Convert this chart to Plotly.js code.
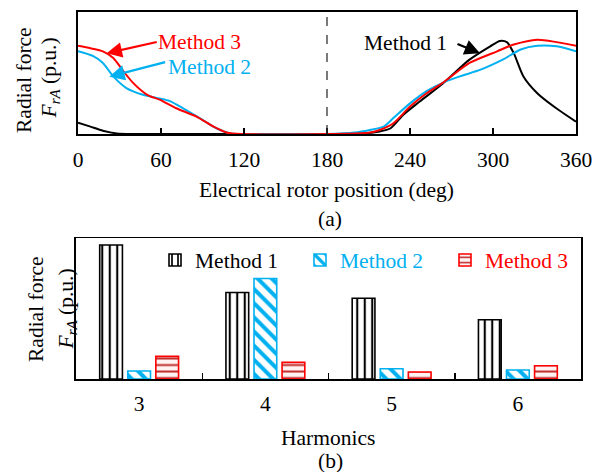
<!DOCTYPE html>
<html>
<head>
<meta charset="utf-8">
<script src="https://cdn.plot.ly/plotly-3.0.1.min.js"></script>
<style>
  html, body { margin: 0; padding: 0; background: #fff; }
  #chart { width: 607px; height: 472px; }
</style>
</head>
<body>
<div id="chart"></div>
<script>
// (a) radial force vs electrical rotor position, per method (p.u.)
const m1Deg = [0, 9, 18, 28, 40, 60, 120, 180, 205, 218, 226, 235, 247, 264, 283, 298, 305, 310, 315, 322, 332, 344, 360];
const m1Val = [0.093, 0.06, 0.027, 0.005, 0, 0, 0, 0, 0.003, 0.02, 0.047, 0.155, 0.265, 0.415, 0.607, 0.716, 0.76, 0.75, 0.66, 0.47, 0.333, 0.224, 0.10];

const m2Deg = [0, 11, 18, 25.5, 35, 47, 59, 66, 76, 88, 100, 110, 120, 180, 200, 211, 221, 228, 240, 252, 264, 276, 291, 307, 320, 332, 346, 360];
const m2Val = [0.675, 0.635, 0.58, 0.47, 0.375, 0.32, 0.29, 0.27, 0.21, 0.13, 0.047, 0.005, 0, 0, 0.012, 0.033, 0.06, 0.13, 0.25, 0.35, 0.42, 0.47, 0.525, 0.607, 0.69, 0.72, 0.716, 0.675];

const m3Deg = [0, 9, 18, 25.5, 33, 40, 50, 59, 71, 86, 98, 108, 120, 180, 210, 218, 228, 240, 252, 264, 283, 303, 315, 332, 346, 360];
const m3Val = [0.72, 0.70, 0.675, 0.62, 0.51, 0.415, 0.32, 0.28, 0.21, 0.14, 0.06, 0.01, 0, 0, 0.01, 0.033, 0.088, 0.224, 0.333, 0.42, 0.58, 0.675, 0.73, 0.77, 0.75, 0.72];

const posTicks = [0, 60, 120, 180, 240, 300, 360];

// (b) harmonic amplitudes (p.u.)
const harmonics = ['3', '4', '5', '6'];
const m1Harm = [1.0, 0.645, 0.603, 0.442];
const m2Harm = [0.06, 0.75, 0.077, 0.067];
const m3Harm = [0.169, 0.124, 0.052, 0.099];

const names = ['Method 1', 'Method 2', 'Method 3'];
const colors = ['#000000', '#00b0f0', '#ff0000'];

const FONT = '"Liberation Serif", "Times New Roman", Times, serif';
const FS = 21.5;

function line(x, y, i) {
  return {
    x: x, y: y, type: 'scatter', mode: 'lines', xaxis: 'x', yaxis: 'y',
    line: { color: colors[i], width: 2, shape: 'spline', smoothing: 0.7 },
    showlegend: false, hoverinfo: 'skip'
  };
}

const patterns = [
  { shape: '|', fgcolor: '#000000', bgcolor: '#ffffff', size: 7.5, solidity: 0.28 },
  { shape: '\\', fgcolor: '#00b0f0', bgcolor: '#ffffff', size: 10, solidity: 0.4 },
  { shape: '-', fgcolor: '#c02a2a', bgcolor: '#fff2f2', size: 6.5, solidity: 0.3 }
];

function bars(y, i) {
  return {
    x: harmonics, y: y, type: 'bar', xaxis: 'x2', yaxis: 'y2',
    name: '<span style="color:' + colors[i] + '">' + names[i] + '</span>',
    marker: { color: '#ffffff', pattern: patterns[i], line: { color: colors[i], width: 1.6 } },
    hoverinfo: 'skip'
  };
}

const data = [
  line(m1Deg, m1Val, 0),
  line(m2Deg, m2Val, 1),
  line(m3Deg, m3Val, 2),
  bars(m1Harm, 0),
  bars(m2Harm, 1),
  bars(m3Harm, 2)
];

const W = 607, H = 472;
const px = v => v / W;
const py = v => 1 - v / H;

function label(text, x, y, opts) {
  return Object.assign({
    text: text, xref: 'paper', yref: 'paper', x: px(x), y: py(y),
    xanchor: 'center', yanchor: 'middle', showarrow: false,
    font: { family: FONT, size: FS, color: '#000' }
  }, opts || {});
}

function arrow(xh, yh, ax, ay, color) {
  return {
    text: '', xref: 'x', yref: 'y', x: xh, y: yh, ax: ax, ay: ay,
    showarrow: true, arrowhead: 2, arrowsize: 1.4, arrowwidth: 2.2, arrowcolor: color
  };
}

function callout(text, x, y, color) {
  return {
    text: text, xref: 'x', yref: 'y', x: x, y: y, showarrow: false,
    xanchor: 'center', yanchor: 'middle',
    font: { family: FONT, size: FS, color: color }
  };
}

const layout = {
  width: W, height: H,
  margin: { l: 0, r: 0, t: 0, b: 0 },
  paper_bgcolor: '#fff', plot_bgcolor: '#fff',
  font: { family: FONT, size: FS, color: '#000' },
  barmode: 'group', bargap: 0.333, bargroupgap: 0.19,
  xaxis: {
    domain: [px(78), px(576)], anchor: 'y',
    range: [0, 360], tickvals: posTicks, ticks: 'inside', ticklen: 6, tickwidth: 1.5,
    tickcolor: '#000', showline: true, linecolor: '#000', linewidth: 1.6, mirror: true,
    showgrid: false, zeroline: false, ticklabelstandoff: 6,
    tickfont: { family: FONT, size: FS, color: '#000' }
  },
  yaxis: {
    domain: [py(134), py(11.5)], anchor: 'x',
    range: [0, 1], showticklabels: false, ticks: '',
    showline: true, linecolor: '#000', linewidth: 1.6, mirror: true,
    showgrid: false, zeroline: false
  },
  xaxis2: {
    domain: [px(76), px(581)], anchor: 'y2', type: 'category',
    ticks: 'inside', tickson: 'boundaries', ticklen: 6, tickwidth: 1.5, tickcolor: '#000',
    showline: true, linecolor: '#000', linewidth: 1.6, mirror: true,
    showgrid: false, zeroline: false, ticklabelstandoff: 5,
    tickfont: { family: FONT, size: FS, color: '#000' }
  },
  yaxis2: {
    domain: [py(379), py(238.3)], anchor: 'x2',
    range: [0, 1.05], showticklabels: false, ticks: '',
    showline: true, linecolor: '#000', linewidth: 1.6, mirror: true,
    showgrid: false, zeroline: false
  },
  legend: {
    orientation: 'h', x: px(155), y: py(260), xanchor: 'left', yanchor: 'middle',
    bgcolor: 'rgba(0,0,0,0)', font: { family: FONT, size: FS },
    entrywidth: 100, entrywidthmode: 'pixels', tracegroupgap: 0
  },
  shapes: [{
    type: 'line', xref: 'x', yref: 'y domain', x0: 180, x1: 180, y0: 0, y1: 1,
    line: { color: '#333', width: 1.3, dash: 'dash' }
  }],
  annotations: [
    arrow(20.7, 0.659, 51.6, -11.6, colors[2]),
    arrow(22.6, 0.468, 57.4, -15, colors[1]),
    arrow(290.6, 0.659, -24, -10, colors[0]),
    callout('Method 3', 88.0, 0.753, colors[2]),
    callout('Method 2', 95.1, 0.549, colors[1]),
    callout('Method 1', 237.1, 0.740, colors[0]),
    label('Electrical rotor position (deg)', 326, 190),
    label('(a)', 330, 219),
    label('Harmonics', 328, 438),
    label('(b)', 330, 461),
    label('Radial force', 24, 80, { textangle: -90 }),
    label('<i>F</i><sub><i>rA</i></sub> (p.u.)', 49.5, 78, { textangle: -90 }),
    label('Radial force', 36, 309, { textangle: -90 }),
    label('<i>F</i><sub><i>rA</i></sub> (p.u.)', 66.5, 309, { textangle: -90 })
  ]
};

Plotly.newPlot('chart', data, layout, { staticPlot: true, displayModeBar: false });
</script>
</body>
</html>
